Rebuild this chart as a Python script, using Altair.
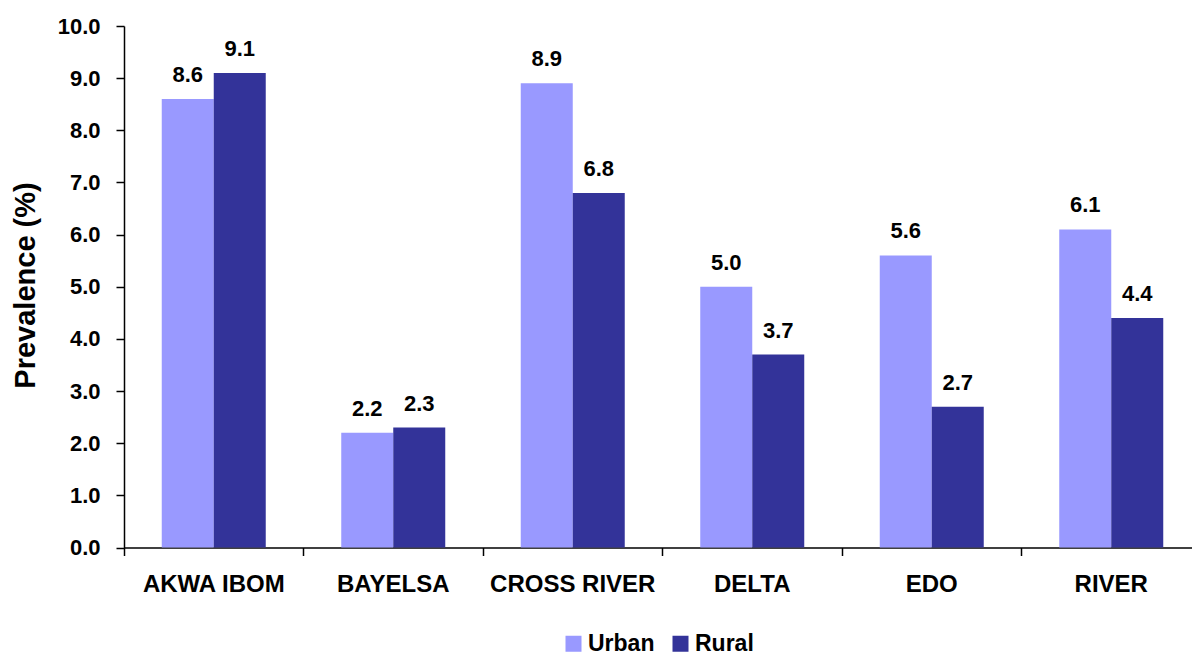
import altair as alt
import pandas as pd

# Prevalence by state, split into urban and rural areas
states = ["AKWA IBOM", "BAYELSA", "CROSS RIVER", "DELTA", "EDO", "RIVER"]
urban = [8.6, 2.2, 8.9, 5.0, 5.6, 6.1]
rural = [9.1, 2.3, 6.8, 3.7, 2.7, 4.4]
groups = ["Urban", "Rural"]
colors = ["#9999FF", "#333399"]
y_ticks = [0, 1, 2, 3, 4, 5, 6, 7, 8, 9, 10]

rows = []
for s, u, r in zip(states, urban, rural):
    rows.append({"state": s, "area": "Urban", "value": u})
    rows.append({"state": s, "area": "Rural", "value": r})
df = pd.DataFrame(rows)

FONT = "Liberation Sans"

x = alt.X(
    "state:N",
    sort=states,
    scale=alt.Scale(range=[0, 1077], paddingInner=0, paddingOuter=0),
    axis=alt.Axis(
        title=None,
        bandPosition=0,
        labelAngle=0,
        labelFont=FONT,
        labelFontSize=24,
        labelFontWeight="bold",
        labelColor="black",
        labelPadding=17,
        tickSize=8,
        tickWidth=1.5,
        tickColor="black",
        domainWidth=1.5,
        domainColor="black",
        grid=False,
    ),
)
x_off = alt.XOffset(
    "area:N", sort=groups, scale=alt.Scale(paddingInner=0, paddingOuter=0.726)
)
y = alt.Y(
    "value:Q",
    scale=alt.Scale(domain=[0, 10], nice=False),
    axis=alt.Axis(
        values=y_ticks,
        format=".1f",
        title="Prevalence (%)",
        titleFont=FONT,
        titleFontSize=29,
        titleFontWeight="bold",
        titleColor="black",
        titleAngle=-90,
        titleAlign="center",
        titleBaseline="alphabetic",
        titleX=-90,
        titleY=259,
        labelFont=FONT,
        labelFontSize=22,
        labelFontWeight="bold",
        labelColor="black",
        labelPadding=16,
        tickSize=8,
        tickWidth=1.5,
        tickColor="black",
        domainWidth=1.5,
        domainColor="black",
        grid=False,
    ),
)
color = alt.Color(
    "area:N",
    sort=groups,
    scale=alt.Scale(domain=groups, range=colors),
    legend=alt.Legend(
        title=None,
        orient="none",
        legendX=438,
        legendY=606,
        direction="horizontal",
        symbolType="square",
        symbolSize=256,
        symbolStrokeWidth=0,
        symbolOpacity=1,
        labelFont=FONT,
        labelFontSize=23,
        labelFontWeight="bold",
        labelColor="black",
        labelOffset=3,
        columnPadding=14,
        padding=0,
    ),
)

bars = alt.Chart(df).mark_bar(strokeWidth=0).encode(x=x, xOffset=x_off, y=y, color=color)

labels = alt.Chart(df).mark_text(
    baseline="alphabetic",
    dy=-17,
    font=FONT,
    fontSize=22,
    fontWeight="bold",
    color="black",
).encode(x=x, xOffset=x_off, y=y, text=alt.Text("value:Q", format=".1f"))

chart = (
    alt.layer(bars, labels)
    .properties(
        width=1068,
        height=521.5,
        autosize=alt.AutoSizeParams(type="none"),
        padding={"left": 124, "top": 26, "right": 0, "bottom": 107.5},
        background="white",
    )
    .configure_view(stroke=None)
)

chart.save("out.html", embed_options={"renderer": "svg", "actions": False})
